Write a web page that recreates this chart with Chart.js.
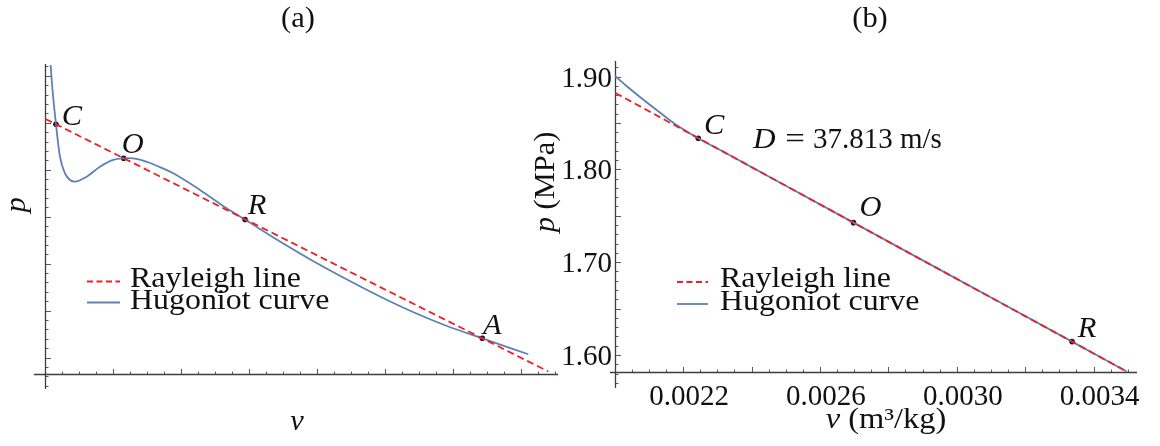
<!DOCTYPE html>
<html><head><meta charset="utf-8">
<script src="https://cdn.jsdelivr.net/npm/chart.js@4.4.0/dist/chart.umd.min.js"></script>
<style>
html,body{margin:0;padding:0;background:#fff;}
#wrap{position:relative;width:1160px;height:446px;overflow:hidden;background:#fff;}
canvas{position:absolute;left:0;top:0;}
</style></head><body>
<div id="wrap"><canvas id="ca" width="1160" height="446"></canvas><canvas id="cb" width="1160" height="446"></canvas></div>
<script>
// ---------- Panel (a) data (arbitrary units) ----------
const aRayleighV = [0.0, 7.394];
const aRayleighP = [5.436, 0.064];
const aHugoniotV = [0.076, 0.091, 0.154, 0.213, 0.287, 0.360, 0.434, 0.606, 0.801, 0.997, 1.150, 1.220, 1.370, 1.537, 1.710, 1.879, 2.272, 2.665, 2.934, 3.449, 3.934, 4.434, 4.919, 5.404, 5.904, 6.424, 7.100];
const aHugoniotP = [6.585, 6.266, 5.323, 4.634, 4.281, 4.138, 4.102, 4.209, 4.421, 4.565, 4.599, 4.602, 4.578, 4.500, 4.395, 4.281, 3.926, 3.536, 3.296, 2.830, 2.415, 2.021, 1.660, 1.330, 1.032, 0.770, 0.430];
const aPointNames = ['C', 'O', 'R', 'A'];
const aPointV = [0.154, 1.150, 2.934, 6.424];
const aPointP = [5.323, 4.600, 3.296, 0.770];
const aXMajorTicks = [0, 1, 2, 3, 4, 5, 6, 7];
const aYMajorTicks = [0.357, 1.357, 2.357, 3.357, 4.357, 5.357, 6.357];

// ---------- Panel (b) data ----------
const bRayleighV = [0.002002, 0.003498];
const bRayleighP = [1.8823, 1.5820];
const bHugoniotV = [0.002001, 0.0020343, 0.0020829, 0.0021318, 0.0021807, 0.002244, 0.002300, 0.002400, 0.002500, 0.002698, 0.003000, 0.003337, 0.003498];
const bHugoniotP = [1.9006, 1.8899, 1.8753, 1.8613, 1.8478, 1.8335, 1.8225, 1.8024, 1.7824, 1.7426, 1.6820, 1.6144, 1.5820];
const bPointNames = ['C', 'O', 'R'];
const bPointV = [0.002244, 0.002698, 0.003337];
const bPointP = [1.8335, 1.7426, 1.6144];
const bXMajorTicks = [0.0020, 0.0022, 0.0024, 0.0026, 0.0028, 0.0030, 0.0032, 0.0034];
const bXLabelValues = [0.0022, 0.0026, 0.0030, 0.0034];
const bXTickLabels = ['0.0022', '0.0026', '0.0030', '0.0034'];
const bYMajorTicks = [1.60, 1.65, 1.70, 1.75, 1.80, 1.85, 1.90];
const bYLabelValues = [1.60, 1.70, 1.80, 1.90];
const bYTickLabels = ['1.60', '1.70', '1.80', '1.90'];
const bDetonationText = '37.813 m/s';

// ---------- styles ----------
const RED = 'rgb(236,32,38)';
const BLUE = 'rgb(94,129,181)';
const AXIS = '#3c3c3c';
const TICK = '#5a5a5a';
const SERIF = "'Liberation Serif', 'Times New Roman', serif";
const FS = 29;
const REG = FS + 'px ' + SERIF;
const ITA = 'italic ' + FS + 'px ' + SERIF;

function pts(xs, ys) { return xs.map((v, i) => ({x: v, y: ys[i]})); }
function allTicks(major, step, from, to) {
  const out = major.map(v => ({v, major: true}));
  const n = Math.round((to - from) / step);
  for (let i = 0; i <= n; i++) {
    const v = from + i * step;
    if (!major.some(m => Math.abs(m - v) < step * 0.05)) out.push({v, major: false});
  }
  return out;
}
// draw text runs; sx = horizontal stretch factor
function drawRuns(ctx, runs, x, y, align, sx) {
  sx = sx || 1;
  let w = 0;
  runs.forEach(r => { ctx.font = r.f; w += ctx.measureText(r.t).width; });
  const total = w * sx;
  let start = align === 'center' ? x - total / 2 : (align === 'right' ? x - total : x);
  ctx.save();
  ctx.translate(start, y);
  ctx.scale(sx, 1);
  ctx.textAlign = 'left';
  ctx.textBaseline = 'alphabetic';
  let cx = 0;
  runs.forEach(r => { ctx.font = r.f; ctx.fillText(r.t, cx, 0); cx += ctx.measureText(r.t).width; });
  ctx.restore();
}

function makeDecor(cfg) {
  return {
    id: 'decor',
    beforeDatasetsDraw(chart) {
      const ctx = chart.ctx, ca = chart.chartArea;
      const xs = chart.scales.x, ys = chart.scales.y;
      const ax = Math.round(xs.getPixelForValue(cfg.yAxisAtV)) + 0.5;
      const ay = Math.round(ys.getPixelForValue(cfg.xAxisAtP)) + 0.5;
      ctx.save();
      ctx.strokeStyle = TICK; ctx.lineWidth = 1;
      allTicks(cfg.xMajor, cfg.xStep, cfg.xFrom, cfg.xTo).forEach(t => {
        const x = Math.round(xs.getPixelForValue(t.v)) + 0.5;
        ctx.beginPath(); ctx.moveTo(x, ay); ctx.lineTo(x, ay - (t.major ? 5.5 : 3)); ctx.stroke();
      });
      allTicks(cfg.yMajor, cfg.yStep, cfg.yFrom, cfg.yTo).forEach(t => {
        const y = Math.round(ys.getPixelForValue(t.v)) + 0.5;
        ctx.beginPath(); ctx.moveTo(ax, y); ctx.lineTo(ax + (t.major ? 5.5 : 3), y); ctx.stroke();
      });
      ctx.strokeStyle = AXIS; ctx.lineWidth = 1.3;
      ctx.beginPath(); ctx.moveTo(ca.left, ay); ctx.lineTo(ca.right, ay); ctx.stroke();
      ctx.beginPath(); ctx.moveTo(ax, ca.top); ctx.lineTo(ax, ca.bottom); ctx.stroke();
      ctx.restore();
    },
    afterDraw(chart) {
      const ctx = chart.ctx;
      const xs = chart.scales.x, ys = chart.scales.y;
      ctx.save();
      ctx.fillStyle = '#111';
      (cfg.xLabelValues || []).forEach((v, i) => {
        drawRuns(ctx, [{t: cfg.xLabels[i], f: REG}], xs.getPixelForValue(v) + 6, cfg.xLabelBase, 'center');
      });
      (cfg.yLabelValues || []).forEach((v, i) => {
        drawRuns(ctx, [{t: cfg.yLabels[i], f: REG}], cfg.yLabelRight, ys.getPixelForValue(v) + 10, 'right');
      });
      cfg.names.forEach((n, i) => {
        const x = xs.getPixelForValue(cfg.pv[i]) + cfg.off[i][0];
        const y = ys.getPixelForValue(cfg.pp[i]) + cfg.off[i][1];
        drawRuns(ctx, [{t: n, f: ITA}], x, y + 10, 'center', 1.05);
      });
      drawRuns(ctx, [{t: cfg.title, f: REG}], cfg.titleX, 27, 'center', 1.05);
      drawRuns(ctx, cfg.xTitle, cfg.xTitleX, cfg.xTitleY, 'center', cfg.xTitleSx);
      ctx.save();
      ctx.translate(cfg.yTitleX, cfg.yTitleY);
      ctx.rotate(-Math.PI / 2);
      drawRuns(ctx, cfg.yTitle, 0, 0, 'center', cfg.yTitleSx);
      ctx.restore();
      const L = cfg.legend;
      ctx.lineWidth = 1.8;
      ctx.strokeStyle = RED; ctx.setLineDash([6, 3.5]);
      ctx.beginPath(); ctx.moveTo(L.x0, L.y1); ctx.lineTo(L.x1, L.y1); ctx.stroke();
      ctx.setLineDash([]);
      ctx.strokeStyle = BLUE;
      ctx.beginPath(); ctx.moveTo(L.x0, L.y2); ctx.lineTo(L.x1, L.y2); ctx.stroke();
      drawRuns(ctx, [{t: 'Rayleigh line', f: REG}], L.tx, L.y1 + 5, 'left', 1.1);
      drawRuns(ctx, [{t: 'Hugoniot curve', f: REG}], L.tx, L.y2 + 6, 'left', 1.1);
      if (cfg.extra) cfg.extra(ctx);
      ctx.restore();
    }
  };
}

function makeChart(id, cfg, rv, rp, hv, hp, pv, pp) {
  return new Chart(document.getElementById(id), {
    type: 'scatter',
    data: {datasets: [
      {label: 'Rayleigh line', data: pts(rv, rp), showLine: true, borderColor: RED, borderWidth: 1.8, borderDash: [7, 4], pointRadius: 0, tension: 0},
      {label: 'Hugoniot curve', data: pts(hv, hp), showLine: true, borderColor: BLUE, borderWidth: 1.8, pointRadius: 0, cubicInterpolationMode: 'monotone'},
      {label: 'states', data: pts(pv, pp), showLine: false, pointRadius: 2.8, pointBackgroundColor: '#1a1a1a', pointBorderColor: '#1a1a1a', pointBorderWidth: 0}
    ]},
    options: {
      responsive: false, animation: false, events: [],
      layout: {padding: cfg.pad},
      scales: {
        x: {type: 'linear', display: false, min: cfg.xMin, max: cfg.xMax},
        y: {type: 'linear', display: false, min: cfg.yMin, max: cfg.yMax}
      },
      plugins: {legend: {display: false}, tooltip: {enabled: false}, title: {display: false}}
    },
    plugins: [makeDecor(cfg)]
  });
}

// Panel (a)
makeChart('ca', {
  pad: {left: 34, right: 1160 - 558, top: 64, bottom: 446 - 389},
  xMin: -0.169, xMax: 7.537, yMin: -0.309, yMax: 6.606,
  yAxisAtV: 0, xAxisAtP: 0,
  xMajor: aXMajorTicks, xStep: 0.25, xFrom: 0.25, xTo: 7.5,
  yMajor: aYMajorTicks, yStep: 0.2, yFrom: -0.243, yTo: 6.557,
  names: aPointNames, pv: aPointV, pp: aPointP,
  off: [[16, -9], [9, -15], [12, -16], [10, -14]],
  title: '(a)', titleX: 298,
  xTitle: [{t: 'v', f: ITA}], xTitleX: 297, xTitleY: 430, xTitleSx: 1.05,
  yTitle: [{t: 'p', f: ITA}], yTitleX: 25, yTitleY: 205, yTitleSx: 1.05,
  legend: {x0: 87, x1: 120, y1: 281.5, y2: 302.5, tx: 130}
}, aRayleighV, aRayleighP, aHugoniotV, aHugoniotP, aPointV, aPointP);

// Panel (b)
makeChart('cb', {
  pad: {left: 610, right: 1160 - 1137, top: 61, bottom: 446 - 388},
  xMin: 0.001986, xMax: 0.003527, yMin: 1.5644, yMax: 1.9168,
  yAxisAtV: 0.0020, xAxisAtP: 1.5814,
  xMajor: bXMajorTicks, xStep: 0.00005, xFrom: 0.00205, xTo: 0.0035,
  yMajor: bYMajorTicks, yStep: 0.01, yFrom: 1.57, yTo: 1.91,
  xLabelValues: bXLabelValues, xLabels: bXTickLabels, xLabelBase: 405,
  yLabelValues: bYLabelValues, yLabels: bYTickLabels, yLabelRight: 612,
  names: bPointNames, pv: bPointV, pp: bPointP,
  off: [[16, -14], [17, -17], [15, -15]],
  title: '(b)', titleX: 870,
  xTitle: [{t: 'v', f: ITA}, {t: ' (m³/kg)', f: REG}], xTitleX: 886, xTitleY: 428, xTitleSx: 1.12,
  yTitle: [{t: 'p', f: ITA}, {t: ' (MPa)', f: REG}], yTitleX: 554, yTitleY: 182, yTitleSx: 1.05,
  legend: {x0: 677, x1: 708, y1: 282, y2: 304, tx: 720},
  extra: ctx => {
    drawRuns(ctx, [{t: 'D', f: ITA}], 753, 148, 'left', 1.08);
    drawRuns(ctx, [{t: '=', f: REG}], 795, 148, 'center', 1.2);
    drawRuns(ctx, [{t: bDetonationText, f: REG}], 813, 148, 'left', 1.0);
  }
}, bRayleighV, bRayleighP, bHugoniotV, bHugoniotP, bPointV, bPointP);
</script>
</body></html>
